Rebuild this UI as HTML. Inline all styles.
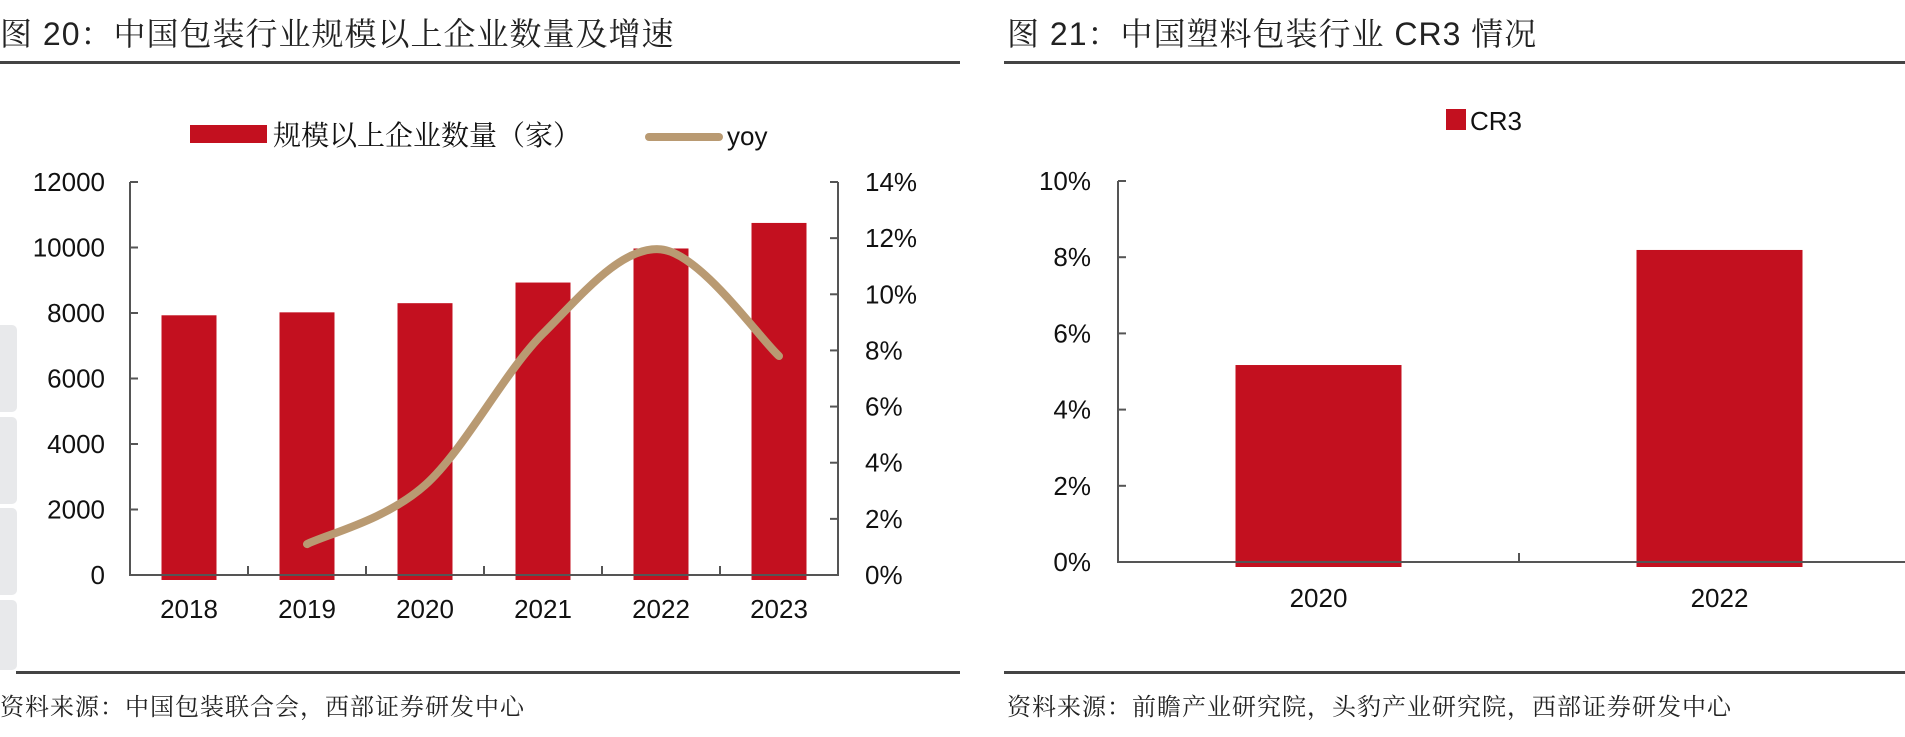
<!DOCTYPE html>
<html><head><meta charset="utf-8">
<style>
html,body{margin:0;padding:0;background:#fff;}
body{width:1905px;height:732px;position:relative;overflow:hidden;font-family:"Liberation Sans","Noto Sans CJK SC",sans-serif;}
svg text{font-family:"Liberation Sans","Noto Sans CJK SC",sans-serif;}
svg text.serif{font-family:"Liberation Sans","Noto Serif CJK SC",serif;}
</style></head>
<body>
<svg id="c" width="1905" height="732" xmlns="http://www.w3.org/2000/svg">
  <g fill="#e8e9eb">
    <rect x="-8" y="325" width="25" height="87" rx="5"/>
    <rect x="-8" y="417" width="25" height="87" rx="5"/>
    <rect x="-8" y="508" width="25" height="87" rx="5"/>
    <rect x="-8" y="600" width="25" height="70" rx="5"/>
  </g>
  <text class="serif" x="0" y="45" font-size="32" letter-spacing="1" fill="#222">图 20：中国包装行业规模以上企业数量及增速</text>
  <text class="serif" x="1007" y="45" font-size="32" letter-spacing="1" fill="#222">图 21：中国塑料包装行业 CR3 情况</text>
  <rect x="0" y="61" width="960" height="3" fill="#444"/>
  <rect x="1004" y="61" width="901" height="3" fill="#444"/>
  <rect x="16" y="671" width="944" height="3" fill="#444"/>
  <rect x="1004" y="671" width="901" height="3" fill="#444"/>
  <text class="serif" x="0" y="715" font-size="24" letter-spacing="1" fill="#222">资料来源：中国包装联合会，西部证券研发中心</text>
  <text class="serif" x="1007" y="715" font-size="24" letter-spacing="1" fill="#222">资料来源：前瞻产业研究院，头豹产业研究院，西部证券研发中心</text>

  <g>
    <rect x="190" y="125" width="77" height="18" fill="#c3101f"/>
    <text class="serif" x="273" y="145" font-size="28" fill="#111">规模以上企业数量（家）</text>
    <line x1="649" y1="137" x2="719" y2="137" stroke="#b99a72" stroke-width="8" stroke-linecap="round"/>
    <text x="727" y="145" font-size="26" fill="#111">yoy</text>
  </g>
  <g>
    <rect x="1446" y="109" width="20" height="21" fill="#c3101f"/>
    <text x="1470" y="130" font-size="26" fill="#111">CR3</text>
  </g>
  <g id="left"></g>
  <g id="right"></g>
</svg>
<script>
const categories = ['2018','2019','2020','2021','2022','2023'];
const countValues = [7930, 8020, 8300, 8930, 9970, 10750];
const yoyValues = [null, 1.1, 3.2, 8.6, 11.6, 7.8];
const leftTicks = [0,2000,4000,6000,8000,10000,12000];
const rightTicks = [0,2,4,6,8,10,12,14];
const cr3Categories = ['2020','2022'];
const cr3Values = [5.17, 8.19];
const cr3Ticks = [0,2,4,6,8,10];

const NS='http://www.w3.org/2000/svg';
function mk(parent,tag,attrs){const e=document.createElementNS(NS,tag);for(const k in attrs)e.setAttribute(k,attrs[k]);parent.appendChild(e);return e;}

// Left chart
const L=document.getElementById('left');
const lx0=130, lx1=838, ly0=575, ly1=182;
const bw=(lx1-lx0)/categories.length;
const yL=v=>ly0-(v/12000)*(ly0-ly1);
const yR=v=>ly0-(v/14)*(ly0-ly1);
const xC=i=>lx0+bw*(i+0.5);
countValues.forEach((v,i)=>{
  const r=mk(L,'rect',{x:xC(i)-27.5,y:yL(v),width:55,height:ly0-yL(v)+5,fill:'#c3101f'});
  
  
});
const ax=mk(L,'path',{d:`M${lx0} ${ly1}V${ly0}H${lx1}V${ly1}`,fill:'none',stroke:'#555','stroke-width':2});


leftTicks.forEach(t=>{
  mk(L,'line',{x1:lx0,x2:lx0+8,y1:yL(t),y2:yL(t),stroke:'#555','stroke-width':2});
  const tx=mk(L,'text',{x:105,y:yL(t)+9,'font-size':26,'text-anchor':'end',fill:'#111'});
  tx.textContent=t;
  
  
});
rightTicks.forEach(t=>{
  mk(L,'line',{x1:lx1-8,x2:lx1,y1:yR(t),y2:yR(t),stroke:'#555','stroke-width':2});
  const tx=mk(L,'text',{x:865,y:yR(t)+9,'font-size':26,fill:'#111'});
  tx.textContent=t+'%';
  
  
});
categories.forEach((c,i)=>{
  if(i>0) mk(L,'line',{x1:lx0+bw*i,x2:lx0+bw*i,y1:ly0,y2:ly0-9,stroke:'#555','stroke-width':2});
  const tx=mk(L,'text',{x:xC(i),y:618,'font-size':26,'text-anchor':'middle',fill:'#111'});
  tx.textContent=c;
  
  
});
const pts=[];yoyValues.forEach((v,i)=>{if(v!==null)pts.push([xC(i),yR(v)]);});
let d=`M${pts[0][0]} ${pts[0][1]}`;
for(let i=0;i<pts.length-1;i++){
  const p0=pts[i-1]||pts[i],p1=pts[i],p2=pts[i+1],p3=pts[i+2]||p2;
  const c1=[p1[0]+(p2[0]-p0[0])/6,p1[1]+(p2[1]-p0[1])/6];
  const c2=[p2[0]-(p3[0]-p1[0])/6,p2[1]-(p3[1]-p1[1])/6];
  d+=`C${c1[0]} ${c1[1]} ${c2[0]} ${c2[1]} ${p2[0]} ${p2[1]}`;
}
const ln=mk(L,'path',{d:d,fill:'none',stroke:'#b99a72','stroke-width':8,'stroke-linecap':'round'});



// Right chart
const R=document.getElementById('right');
const rx0=1118, ry0=562, ry1=181, rbw=401;
const yC=v=>ry0-(v/10)*(ry0-ry1);
const rxC=i=>rx0+rbw*(i+0.5);
cr3Values.forEach((v,i)=>{
  const r=mk(R,'rect',{x:rxC(i)-83,y:yC(v),width:166,height:ry0-yC(v)+5,fill:'#c3101f'});
  
  
});
const ax2=mk(R,'path',{d:`M${rx0} ${ry1}V${ry0}H1905`,fill:'none',stroke:'#555','stroke-width':2});


mk(R,'line',{x1:rx0+rbw,x2:rx0+rbw,y1:ry0,y2:ry0-9,stroke:'#555','stroke-width':2});
cr3Ticks.forEach(t=>{
  mk(R,'line',{x1:rx0,x2:rx0+8,y1:yC(t),y2:yC(t),stroke:'#555','stroke-width':2});
  const tx=mk(R,'text',{x:1091,y:yC(t)+9,'font-size':26,'text-anchor':'end',fill:'#111'});
  tx.textContent=t+'%';
  
  
});
cr3Categories.forEach((c,i)=>{
  const tx=mk(R,'text',{x:rxC(i),y:607,'font-size':26,'text-anchor':'middle',fill:'#111'});
  tx.textContent=c;
  
  
});
</script>
</body></html>
